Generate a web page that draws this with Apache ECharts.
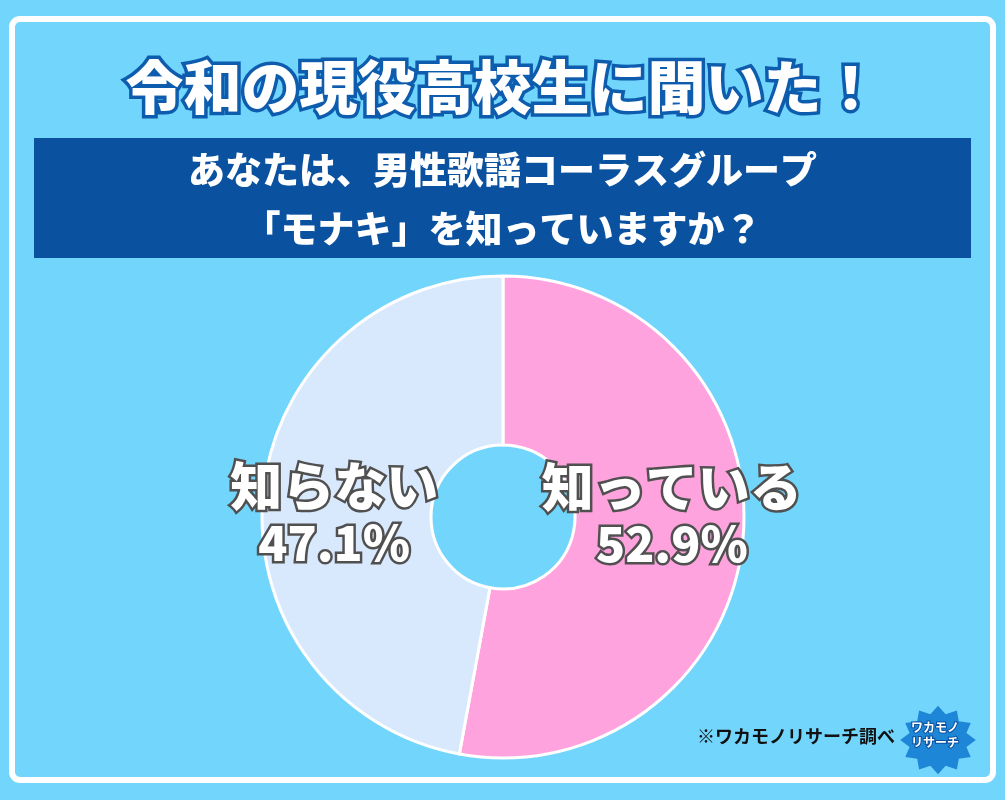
<!DOCTYPE html>
<html><head><meta charset="utf-8">
<script src="https://cdn.jsdelivr.net/npm/echarts@6/dist/echarts.min.js"></script>
<style>html,body{margin:0;padding:0;background:#72d5fb;}#c{width:1005px;height:800px;}</style>
</head><body><div id="c"></div>
<script>
const categories = ['知っている', '知らない'];
const values = [52.9, 47.1];
const titleText = '令和の現役高校生に聞いた！';
const questionLines = ['あなたは、男性歌謡コーラスグループ', '「モナキ」を知っていますか？'];
const sourceText = '※ワカモノリサーチ調べ';

const FONT = '"Noto Sans CJK JP", "Noto Sans", sans-serif';
const chart = echarts.init(document.getElementById('c'));

// starburst logo points (decoration)
const burst = [];
for (let i = 0; i < 24; i++) {
  const a = i / 24 * Math.PI * 2;
  const r = i % 2 ? 28 : 36;
  burst.push([938 + r * Math.cos(a) * 1.05, 740 + r * Math.sin(a) * 0.95]);
}

chart.setOption({
  backgroundColor: '#72d5fb',
  graphic: [
    { type: 'rect', z: 0, shape: { x: 12, y: 19, width: 981, height: 761, r: 8 },
      style: { fill: '#72d5fb', stroke: '#ffffff', lineWidth: 6 } },
    { type: 'rect', z: 1, shape: { x: 34, y: 138, width: 937, height: 120 },
      style: { fill: '#0a519f' } },
    { type: 'polygon', z: 1, shape: { points: burst }, style: { fill: '#1e86d6' } },
    { type: 'text', z: 2, left: 910, top: 720,
      style: { text: 'ワカモノ\nリサーチ', fill: '#ffffff', font: 'bold 12px ' + FONT, lineHeight: 15,
        stroke: '#0a519f', lineWidth: 2 } },
    { type: 'text', z: 2, left: 697, top: 727,
      style: { text: sourceText, fill: '#111111', font: 'bold 18px ' + FONT } }
  ],
  title: [
    { text: titleText, left: 'center', top: 53,
      textStyle: { fontFamily: FONT, fontWeight: 900, fontSize: 58, color: '#ffffff',
        textBorderColor: '#0d5cae', textBorderWidth: 7,
        textShadowColor: '#0d5cae', textShadowOffsetX: 4, textShadowOffsetY: 5, textShadowBlur: 0 } },
    { text: questionLines[0], left: 'center', top: 146,
      textStyle: { fontFamily: FONT, fontWeight: 900, fontSize: 37, color: '#ffffff' } },
    { text: questionLines[1], left: 'center', top: 205,
      textStyle: { fontFamily: FONT, fontWeight: 900, fontSize: 37, color: '#ffffff' } }
  ],
  series: [{
    type: 'pie',
    center: [503, 517],
    radius: [72, 241],
    startAngle: 90,
    clockwise: true,
    avoidLabelOverlap: false,
    silent: true,
    itemStyle: { borderColor: '#ffffff', borderWidth: 3 },
    label: {
      show: true, position: 'inside',
      formatter: p => '{n|' + p.name + '}\n{v|' + p.value.toFixed(1) + '%}',
      rich: {
        n: { fontFamily: FONT, fontWeight: 900, fontSize: 52, lineHeight: 58,
             color: '#ffffff', textBorderColor: '#505050', textBorderWidth: 5 },
        v: { fontFamily: FONT, fontWeight: 900, fontSize: 48, lineHeight: 54,
             color: '#ffffff', textBorderColor: '#505050', textBorderWidth: 5 }
      }
    },
    labelLine: { show: false },
    data: [
      { name: categories[0], value: values[0], itemStyle: { color: '#ffa3de' }, label: { offset: [10, -17] } },
      { name: categories[1], value: values[1], itemStyle: { color: '#d8e9fd' }, label: { offset: [-10, 11] } }
    ]
  }]
});
</script></body></html>
